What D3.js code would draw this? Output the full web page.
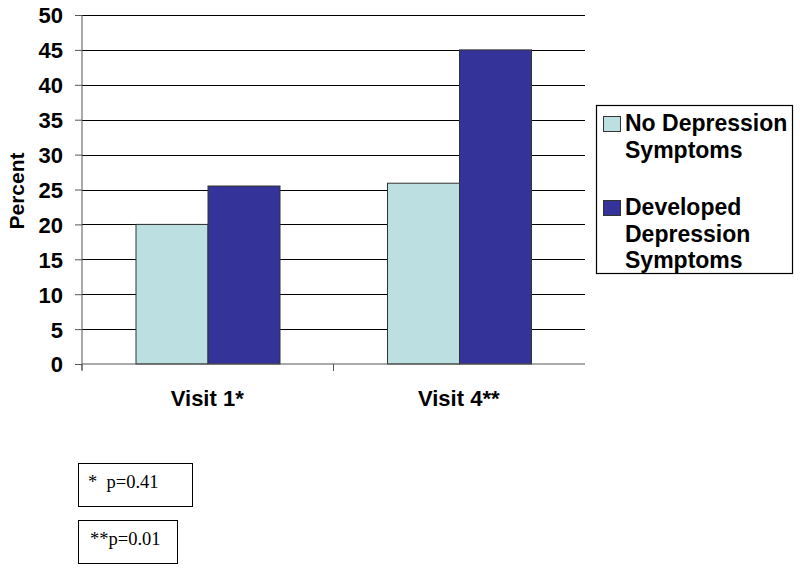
<!DOCTYPE html>
<html><head><meta charset="utf-8">
<script src="https://cdn.jsdelivr.net/npm/d3@7"></script>
<style>body{margin:0;background:#fff}svg{display:block}</style>
</head><body>
<svg id="c" width="800" height="571"></svg>
<script>
const categories = ["Visit 1*", "Visit 4**"];
const seriesNames = ["No Depression Symptoms", "Developed Depression Symptoms"];
const legendLines = [["No Depression", "Symptoms"], ["Developed", "Depression", "Symptoms"]];
const noDepression = [20, 25.9];
const developedDepression = [25.5, 45];
const yTicks = [0, 5, 10, 15, 20, 25, 30, 35, 40, 45, 50];
const footnotes = ["*  p=0.41", "**p=0.01"];
const colors = ["#BCE0E2", "#333399"];

(function () {
const svg = d3.select("#c");
const pL = 82, pR = 585, pT = 15, pB = 364;
const y = d3.scaleLinear().domain([0, 50]).range([pB, pT]);
const x0 = d3.scaleBand().domain(categories).range([pL, pR]).paddingInner(0).paddingOuter(0);
const x1 = d3.scaleBand().domain([0, 1]).range([54, 54 + 144]);
const series = [noDepression, developedDepression];
const sans = "Liberation Sans, Arial, sans-serif";

// gridlines
svg.append("g").selectAll("line").data(yTicks.filter(d => d > 0)).join("line")
  .attr("x1", pL).attr("x2", pR).attr("y1", d => Math.round(y(d)) + 0.5).attr("y2", d => Math.round(y(d)) + 0.5)
  .attr("stroke", "#000").attr("stroke-width", 1.2);

// bars
const g = svg.append("g");
categories.forEach((c, i) => {
  series.forEach((s, k) => {
    g.append("rect")
      .attr("x", x0(c) + x1(k)).attr("width", x1.bandwidth())
      .attr("y", y(s[i])).attr("height", y(0) - y(s[i]))
      .attr("fill", colors[k]).attr("stroke", "#333").attr("stroke-width", 1);
  });
});

// y axis
const yAxis = d3.axisLeft(y).tickValues(yTicks).tickSize(7).tickPadding(12);
const ya = svg.append("g").attr("transform", `translate(${pL},0)`).call(yAxis);
ya.select(".domain").attr("stroke", "#555").attr("d", `M0,${pT}V${pB + 6}`);
ya.selectAll(".tick line").attr("stroke", "#555");
ya.selectAll(".tick text").attr("font-family", sans)
  .attr("font-weight", "bold").attr("font-size", 22).attr("fill", "#000").attr("dy", "0.36em");

// x axis
const xa = svg.append("g").attr("transform", `translate(0,${pB})`);
xa.append("line").attr("x1", pL).attr("x2", pR).attr("y1", 0).attr("y2", 0).attr("stroke", "#555");
xa.selectAll("line.tk").data([pL, pL + x0.bandwidth()]).join("line").attr("class", "tk")
  .attr("x1", d => d).attr("x2", d => d).attr("y1", 0).attr("y2", 7).attr("stroke", "#555");
xa.selectAll("text").data(categories).join("text")
  .attr("x", d => x0(d) + x0.bandwidth() / 2 - 0.5).attr("y", 42)
  .attr("text-anchor", "middle").attr("font-family", sans)
  .attr("font-weight", "bold").attr("font-size", 22).text(d => d);

// y label
svg.append("text").attr("transform", "translate(24,191) rotate(-90)")
  .attr("text-anchor", "middle").attr("font-family", sans)
  .attr("font-weight", "bold").attr("font-size", 21).text("Percent");

// legend
const lg = svg.append("g");
lg.append("rect").attr("x", 596.5).attr("y", 105.5).attr("width", 196).attr("height", 168)
  .attr("fill", "#fff").attr("stroke", "#000").attr("stroke-width", 1.2);
const legendY = [131, 215];
legendLines.forEach((lines, k) => {
  lg.append("rect").attr("x", 603.5).attr("y", legendY[k] - 14.5).attr("width", 17).attr("height", 15)
    .attr("fill", colors[k]).attr("stroke", "#333").attr("stroke-width", 1);
  lines.forEach((t, j) => {
    lg.append("text").attr("x", 625).attr("y", legendY[k] + j * 26.5)
      .attr("font-family", sans).attr("font-weight", "bold")
      .attr("font-size", 23).text(t);
  });
});

// footnotes
const fn = [{x: 78.5, y: 463.5, w: 114, h: 43}, {x: 78.5, y: 520.5, w: 99, h: 43}];
footnotes.forEach((t, i) => {
  svg.append("rect").attr("x", fn[i].x).attr("y", fn[i].y).attr("width", fn[i].w).attr("height", fn[i].h)
    .attr("fill", "#fff").attr("stroke", "#000").attr("stroke-width", 1);
  svg.append("text").attr("x", i === 0 ? 88 : 90).attr("y", fn[i].y + 24)
    .style("white-space", "pre")
    .attr("font-family", "Liberation Serif, Times New Roman, serif").attr("font-size", 18.5).text(t);
});
})();
</script>
</body></html>
